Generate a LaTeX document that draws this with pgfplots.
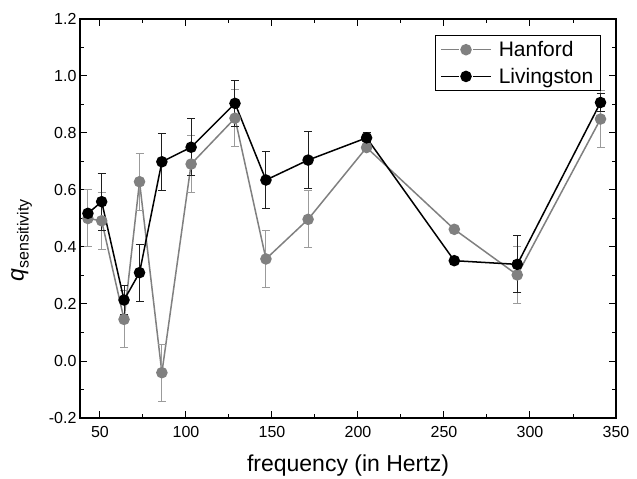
\documentclass[border=0pt]{standalone}
\usepackage{fontspec}
\setmainfont{Liberation Sans}
\usepackage{pgfplots}
\pgfplotsset{compat=1.18}
\usepackage{pgfplotstable}
\definecolor{hanford}{RGB}{128,128,128}
\definecolor{hanerr}{RGB}{155,155,155}
\definecolor{livierr}{RGB}{30,30,30}

\pgfplotstableread{
x y err
43 0.500 0.10
51 0.492 0.10
64 0.146 0.10
73 0.629 0.10
86 -0.041 0.10
103 0.691 0.10
128.5 0.852 0.10
146.5 0.358 0.10
171 0.497 0.10
205 0.749 0.01
256 0.462 0.0
292.6 0.302 0.10
341 0.849 0.10
}\hanford

\pgfplotstableread{
x y err
43 0.518 0.015
51 0.559 0.10
64 0.214 0.05
73 0.310 0.10
86 0.699 0.10
103 0.750 0.10
128.5 0.904 0.08
146.5 0.635 0.10
171 0.705 0.10
205 0.783 0.02
256 0.352 0.0
292.6 0.339 0.10
341 0.907 0.03
}\livingston

\begin{document}
\begin{tikzpicture}
\begin{axis}[
  scale only axis,
  width=536pt, height=399pt,
  xmin=38.4, xmax=350,
  ymin=-0.2, ymax=1.2,
  xtick={50,100,...,350},
  ytick={-0.2,0,0.2,0.4,0.6,0.8,1.0,1.2},
  minor x tick num=1,
  minor y tick num=1,
  tick align=inside,
  major tick length=7pt,
  minor tick length=4.5pt,
  axis line style={line width=1.2pt},
  every tick/.style={black, line width=1pt},
  /pgf/number format/assume math mode=true,
  yticklabel style={/pgf/number format/fixed, /pgf/number format/fixed zerofill, /pgf/number format/precision=1},
  tick label style={font=\fontsize{16}{19}\selectfont},
  xticklabel style={yshift=-5pt},
  xlabel={frequency (in Hertz)},
  xlabel style={font=\fontsize{23}{27}\selectfont, yshift=-10pt},
  ylabel={{\fontsize{23}{26}\selectfont\textit{q}}{\fontsize{16}{19}\selectfont\raisebox{-5pt}{sensitivity}}},
  ylabel style={yshift=10pt, xshift=-22pt},
  legend style={at={(0.9715,0.96)}, anchor=north east, draw=black, line width=0.8pt,
    font=\fontsize{21}{25}\selectfont, inner xsep=5pt, inner ysep=4pt,
    row sep=6pt, cells={anchor=west}},
  legend cell align=left,
  legend image code/.code={
    \draw[mark=none, line width=1.5pt] (0pt,0pt) -- (18pt,0pt);
    \draw[mark=none, line width=1.5pt] (32pt,0pt) -- (50pt,0pt);
    \fill (25pt,0pt) circle (5pt);
    \path (55pt,0pt);
  },
]
\addplot[color=hanford, line width=1.5pt, mark=*, mark size=5pt,
  mark options={fill=hanford, draw=hanford},
  error bars/.cd, y dir=both, y explicit,
  error bar style={hanerr, line width=1pt},
  error mark options={rotate=90, mark size=4pt, hanerr, line width=1pt}]
  table[x=x, y=y, y error=err] {\hanford};
\addlegendentry{Hanford}
\addplot[color=black, line width=1.5pt, mark=*, mark size=5pt,
  mark options={fill=black, draw=black},
  error bars/.cd, y dir=both, y explicit,
  error bar style={livierr, line width=1pt},
  error mark options={rotate=90, mark size=4pt, livierr, line width=1pt}]
  table[x=x, y=y, y error=err] {\livingston};
\addlegendentry{Livingston}
\end{axis}
\pgfresetboundingbox
\path ([shift={(-80pt,-61pt)}]current axis.south west) rectangle ([shift={(21pt,19pt)}]current axis.north east);
\end{tikzpicture}
\end{document}
